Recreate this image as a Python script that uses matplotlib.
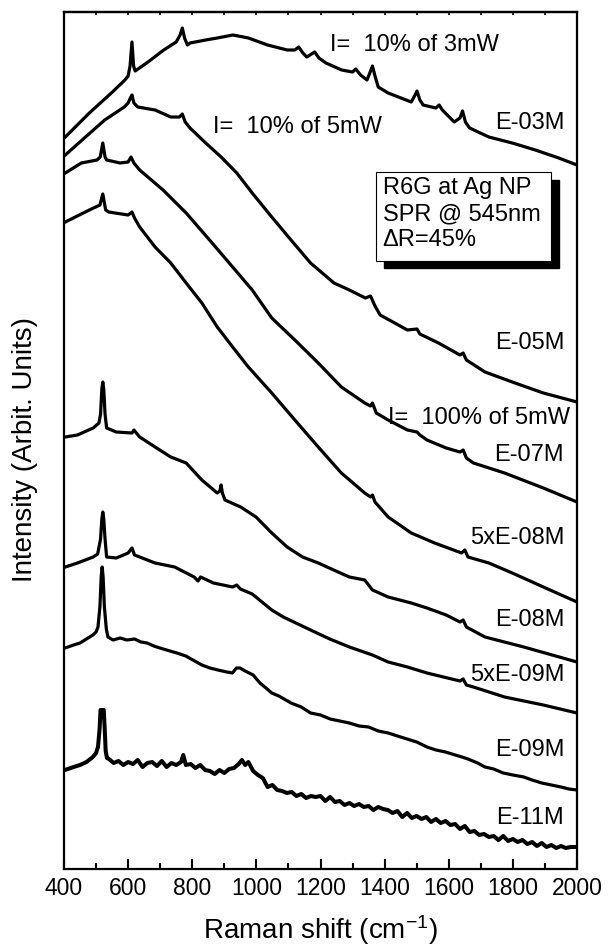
"""Raman spectra of R6G on Ag NP (SERS) at several concentrations, stacked."""

import matplotlib
matplotlib.use("Agg")
import matplotlib.pyplot as plt
from matplotlib.patches import Rectangle

plt.rcParams["font.family"] = ["Liberation Sans", "DejaVu Sans"]
plt.rcParams["mathtext.default"] = "regular"

# --- data: Raman shift (cm-1) and stacked intensity (arbit. units) ---------
x_e03 = [404, 479, 551, 590, 600, 606, 612, 617, 622, 662, 711, 750, 762, 769,
         776, 785, 793, 842, 878, 927, 975, 1035, 1096, 1120, 1132, 1145, 1157,
         1182, 1195, 1217, 1266, 1300, 1310, 1325, 1345, 1355, 1362, 1370, 1380,
         1411, 1483, 1495, 1501, 1510, 1520, 1560, 1570, 1580, 1617, 1635, 1643,
         1652, 1665, 1725, 1798, 1870, 1943, 2000]
y_e03 = [732, 756, 777, 789, 793, 803, 827, 803, 798, 807, 819, 827, 834, 841,
         831, 824, 826, 829, 831, 834, 831, 824, 819, 819, 822, 816, 812,
         817, 811, 806, 799, 797, 800, 794, 789, 797, 803, 793, 782,
         776, 767, 774, 778, 769, 764, 761, 764, 759, 747, 751, 758,
         747, 741, 732, 726, 719, 711, 704]

x_e05 = [404, 467, 527, 588, 600, 607, 612, 618, 630, 684, 733, 760, 769, 778,
         793, 842, 890, 939, 987, 1048, 1108, 1169, 1242, 1290, 1340, 1356, 1370,
         1386, 1471, 1501, 1510, 1568, 1635, 1645, 1655, 1713, 1798, 1895, 2000]
y_e05 = [714, 732, 749, 762, 766, 771, 774, 766, 762, 759, 752, 752, 755, 747,
         741, 726, 712, 696, 676, 652, 629, 606, 586, 579, 571, 573, 563,
         554, 539, 540, 535, 526, 514, 516, 509, 497, 487, 476, 467]

x_e07 = [404, 454, 503, 513, 521, 528, 533, 575, 600, 609, 618, 636, 709, 781,
         854, 926, 987, 1048, 1120, 1193, 1265, 1338, 1356, 1362, 1374, 1411,
         1471, 1501, 1510, 1532, 1592, 1635, 1645, 1655, 1677, 1774, 1895, 2000]
y_e07 = [696, 706, 709, 712, 726, 712, 709, 706, 707, 712, 706, 699, 679, 656,
         629, 602, 579, 551, 529, 506, 482, 466, 463, 466, 456, 449,
         439, 437, 434, 429, 421, 417, 419, 411, 406, 396, 381, 367]

x_5e08 = [404, 479, 512, 521, 530, 539, 600, 612, 620, 636, 684, 733, 781, 830,
          878, 926, 975, 1048, 1120, 1193, 1265, 1338, 1356, 1362, 1370, 1411,
          1483, 1556, 1640, 1650, 1660, 1725, 1798, 1895, 2000]
y_5e08 = [647, 659, 664, 675, 659, 657, 654, 657, 651, 642, 622, 606, 586, 566,
          542, 522, 502, 476, 449, 422, 396, 376, 372, 374, 367, 352,
          336, 326, 316, 319, 312, 306, 296, 282, 267]

x_e08 = [404, 442, 491, 509, 514, 518, 521, 524, 528, 533, 563, 612, 618, 636,
         684, 733, 781, 830, 878, 886, 890, 894, 902, 951, 999, 1048, 1096, 1144,
         1193, 1241, 1290, 1338, 1362, 1411, 1483, 1532, 1592, 1635, 1645, 1655,
         1713, 1834, 2000]
y_e08 = [432, 434, 441, 446, 455, 480, 487, 480, 455, 441, 437, 436, 439, 432,
         422, 412, 406, 389, 376, 378, 384, 376, 369, 362, 352, 336, 322, 312,
         306, 299, 292, 289, 279, 272, 266, 261, 254, 247, 249, 242,
         232, 222, 207]

x_5e09 = [404, 442, 491, 505, 514, 518, 521, 524, 528, 533, 563, 600, 612, 620,
          636, 684, 745, 806, 818, 826, 866, 926, 939, 950, 987, 1048, 1084,
          1169, 1229, 1290, 1362, 1411, 1471, 1532, 1635, 1645, 1655, 1677,
          1774, 1895, 2000]
y_5e09 = [302, 306, 312, 315, 330, 350, 357, 350, 330, 312, 311, 316, 321, 314,
          312, 306, 302, 292, 288, 292, 286, 282, 284, 280, 275, 259, 252,
          239, 230, 222, 214, 207, 202, 196, 188, 190, 184, 182,
          172, 164, 156]

x_e09 = [403, 430, 450, 470, 490, 500, 506, 512, 516, 519, 522, 526, 532, 537,
         553, 575, 596, 620, 640, 659, 680, 699, 720, 752, 780, 802, 830, 855,
         880, 908, 925, 938, 949, 965, 990, 1011, 1030, 1048, 1070, 1108, 1140,
         1169, 1200, 1230, 1260, 1290, 1320, 1350, 1380, 1411, 1440, 1470, 1500,
         1532, 1560, 1590, 1620, 1641, 1660, 1690, 1713, 1740, 1770, 1800, 1834,
         1860, 1890, 1920, 1950, 1975, 2000]
y_e09 = [221, 224, 226, 230, 234, 237, 242, 262, 292, 302, 292, 262, 240, 232,
         229, 231, 229, 230, 227, 226, 223, 221, 219, 216, 213, 209, 204, 201,
         199, 197, 196, 201, 201, 198, 194, 186, 181, 176, 173, 166, 162,
         156, 154, 150, 148, 146, 143, 142, 138, 136, 133, 130, 127,
         122, 119, 117, 114, 112, 110, 106, 102, 100, 96, 94, 92,
         89, 86, 84, 82, 80, 79]

x_e11 = [403, 430, 450, 470, 490, 500, 506, 511, 514, 517, 524, 527, 530, 534,
         540, 555, 570, 585, 600, 615, 630, 645, 660, 675, 690, 705, 720, 735,
         750, 765, 772, 780, 795, 810, 825, 840, 855, 870, 885, 900, 915, 930,
         945, 955, 965, 975, 990, 1005, 1020, 1035, 1050, 1065, 1080, 1095, 1110,
         1125, 1140, 1155, 1170, 1185, 1200, 1215, 1230, 1245, 1260, 1275, 1290,
         1305, 1320, 1335, 1350, 1365, 1380, 1395, 1410, 1425, 1440, 1455, 1470,
         1485, 1500, 1515, 1530, 1545, 1560, 1575, 1590, 1605, 1620, 1635, 1650,
         1665, 1680, 1695, 1710, 1725, 1740, 1755, 1770, 1785, 1800, 1815, 1830,
         1845, 1860, 1875, 1890, 1905, 1920, 1935, 1950, 1965, 1980, 2000]
y_e11 = [99, 102, 104, 107, 112, 116, 122, 140, 159, 159, 159, 140, 118, 111,
         110, 106, 108, 104, 107, 105, 109, 102, 106, 107, 103, 108, 102, 106,
         104, 107, 114, 104, 105, 101, 104, 99, 98, 95, 99, 96, 100, 101,
         105, 109, 104, 107, 98, 94, 91, 82, 84, 79, 78, 76, 77,
         73, 75, 71, 73, 72, 73, 68, 72, 67, 68, 64, 66,
         63, 65, 62, 63, 59, 62, 60, 59, 56, 58, 52, 56,
         51, 53, 50, 52, 47, 50, 46, 48, 44, 45, 40, 43,
         37, 38, 34, 35, 32, 33, 29, 33, 28, 30, 27, 29,
         25, 27, 23, 26, 22, 24, 21, 23, 21, 22, 22]

spectra = [(x_e03, y_e03), (x_e05, y_e05), (x_e07, y_e07), (x_5e08, y_5e08),
           (x_e08, y_e08), (x_5e09, y_5e09), (x_e09, y_e09), (x_e11, y_e11)]

conc_labels = ["E-03M", "E-05M", "E-07M", "5xE-08M", "E-08M", "5xE-09M",
               "E-09M", "E-11M"]
conc_label_y = [746, 526, 414, 331, 249, 194, 119, 51]

power_notes = ["I=  10% of 3mW", "I=  10% of 5mW", "I=  100% of 5mW"]
power_note_xy = [(1230, 824), (865, 742), (1411, 451)]

box_lines = ["R6G at Ag NP", "SPR @ 545nm", "\u0394R=45%"]

# --- plot -------------------------------------------------------------------
fig = plt.figure(figsize=(6.08, 9.49), dpi=100)
ax = fig.add_axes([64 / 608, 1 - 869 / 949, 513 / 608, 857 / 949])

for i, (xs, ys) in enumerate(spectra):
    lw = 2.9 if i == len(spectra) - 1 else 2.3
    ax.plot(xs, ys, color="black", lw=lw, solid_joinstyle="round")

for lab, yy in zip(conc_labels, conc_label_y):
    ax.text(1960, yy, lab, ha="right", va="center", fontsize=17)

for note, (xx, yy) in zip(power_notes, power_note_xy):
    ax.text(xx, yy, note, ha="left", va="center", fontsize=17, zorder=1)

# info box with drop shadow
bx0, by0, bw, bh = 0.608, 0.7095, 0.341, 0.1035
ax.add_patch(Rectangle((bx0 + 0.0156, by0 - 0.0085), bw, bh, transform=ax.transAxes,
                       facecolor="black", edgecolor="black", zorder=4))
ax.add_patch(Rectangle((bx0, by0), bw, bh, transform=ax.transAxes,
                       facecolor="white", edgecolor="black", lw=0.8, zorder=5))
for i, line in enumerate(box_lines):
    ax.text(0.621, 0.7946 - i * 0.0305, line, transform=ax.transAxes,
            ha="left", va="center", fontsize=17, zorder=6)

ax.set_xlim(400, 2000)
ax.set_ylim(0, 857)
ax.set_xticks(range(400, 2001, 200))
ax.set_xticks(range(500, 2000, 200), minor=True)
ax.set_yticks([])
ax.tick_params(axis="x", which="major", direction="in", length=7, width=1.5,
               labelsize=16.5, pad=6)
ax.tick_params(axis="x", which="minor", direction="in", length=4, width=1.5)

# small ticks on the top edge
top = ax.secondary_xaxis("top")
top.set_xticks(range(400, 2001, 100))
top.tick_params(direction="in", length=2.5, width=1.2, labeltop=False)
top.set_xticklabels([])
for sp in list(ax.spines.values()) + list(top.spines.values()):
    sp.set_linewidth(1.6)

ax.set_xlabel("Raman shift (cm$^{-1}$)", fontsize=20)
ax.xaxis.set_label_coords(0.5, -0.052)
ax.set_ylabel("Intensity (Arbit. Units)", fontsize=20)
ax.yaxis.set_label_coords(-0.05, 0.49)

fig.savefig("out.png", dpi=100)
